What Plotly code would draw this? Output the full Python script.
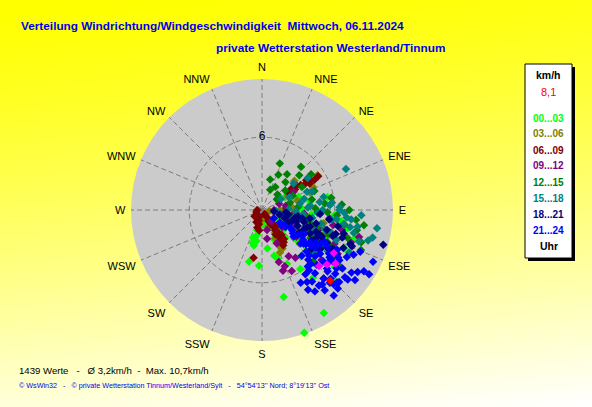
import base64
import struct
import zlib

import plotly.graph_objects as go

W, H = 592, 407

# compass labels of the rose
directions = ["N", "NNE", "NE", "ENE", "E", "ESE", "SE", "SSE",
              "S", "SSW", "SW", "WSW", "W", "WNW", "NW", "NNW"]

# time slots (Uhr) and their colours
slots = ["00...03", "03...06", "06...09", "09...12",
         "12...15", "15...18", "18...21", "21...24"]
slot_colors = ["#00ff00", "#808000", "#800000", "#800080",
               "#008000", "#008080", "#000080", "#0000ff"]

# wind direction (deg) / wind speed (km/h) per time slot
dir_00 = [191, 193, 194, 183, 165, 166, 147, 161, 149, 198, 194, 190, 196, 172, 158,
          152, 162, 155, 140, 136, 130, 125, 118, 112, 105, 100, 95, 80, 79, 88,
          110, 122, 128, 143, 134, 115, 108, 120, 150, 175, 140, 132, 98, 70, 60, 131,
          90, 94, 102, 107, 114]
spd_00 = [2.1, 3.0, 4.4, 4.6, 3.9, 7.4, 5.8, 10.7, 9.9, 2.4, 1.7, 2.6, 2.8, 3.2, 2.6,
          3.4, 4.2, 4.9, 5.0, 6.1, 4.6, 3.8, 5.3, 4.4, 3.6, 2.9, 4.1, 4.0, 5.5, 3.3,
          6.2, 6.8, 7.6, 7.0, 8.3, 7.5, 2.2, 1.6, 1.8, 1.2, 3.0, 2.4, 6.6, 3.2, 2.2, 3.8,
          5.0, 6.0, 7.2, 8.0, 5.6]

dir_03 = [98, 98, 97, 98, 99, 98, 97, 98, 99, 100, 58, 65, 152, 155, 156, 154, 150, 157,
          110, 115, 105, 120, 90, 85, 75, 125, 160, 145, 135, 70, 102, 112, 48, 62, 180, 200]
spd_03 = [0.6, 1.0, 1.4, 1.8, 2.2, 2.6, 3.0, 3.4, 3.8, 4.1, 5.4, 4.6, 3.6, 2.6, 3.0, 3.3, 2.2, 3.8,
          2.0, 3.2, 4.6, 2.8, 1.5, 2.5, 3.0, 1.2, 1.5, 1.0, 2.0, 4.2, 5.2, 5.5, 3.6, 2.4, 0.8, 1.0]

dir_06 = [146, 145, 147, 144, 148, 145, 143, 147, 146, 144, 148, 145, 147, 143, 146, 149,
          150, 141, 151, 142, 150,
          57, 56, 58, 55, 57, 59, 56, 58, 60, 59, 54, 61,
          190, 197, 192, 195, 188, 200, 205, 250, 270, 230, 110, 100, 125, 85]
spd_06 = [0.4, 0.7, 1.0, 1.2, 1.4, 1.6, 1.8, 2.0, 2.2, 2.4, 2.5, 2.7, 2.9, 3.0, 3.2, 3.4,
          1.1, 1.5, 2.3, 2.6, 3.0,
          2.6, 2.9, 3.2, 3.5, 3.8, 4.1, 4.4, 4.7, 5.0, 5.4, 3.0, 4.5,
          4.0, 0.9, 1.2, 1.5, 1.7, 0.6, 1.1, 0.5, 0.4, 0.8, 2.5, 1.8, 3.5, 2.0]

dir_09 = [162, 161, 154, 158, 105.5, 166, 156, 150, 145, 130, 125, 118, 112, 108, 100,
          95, 120, 138, 115, 80, 70, 130, 140, 170, 60, 102, 128, 90,
          92, 97, 104, 110, 116]
spd_09 = [4.5, 5.3, 5.6, 5.0, 8.3, 1.7, 3.0, 4.4, 4.8, 6.4, 5.6, 4.0, 3.0, 5.0, 2.5,
          3.5, 7.2, 7.6, 6.6, 2.0, 1.5, 2.2, 1.2, 2.4, 3.0, 6.0, 3.6, 1.0,
          4.6, 5.6, 6.8, 7.8, 4.6]

dir_12 = [21, 47, 54, 22, 98.5, 50, 30, 40, 35, 45, 60, 65, 25, 15, 55, 75, 85, 95,
          105, 110, 118, 100, 92, 125, 115, 130, 120, 108, 112, 88, 70, 42, 80, 135, 102,
          104, 107, 113, 116, 98, 94, 121, 126, 86, 90, 96, 102, 108, 84, 78]
spd_12 = [4.1, 4.2, 5.0, 1.8, 8.5, 2.5, 2.2, 3.0, 3.6, 1.8, 3.8, 2.8, 3.2, 2.6, 1.5, 2.4, 3.0, 2.0,
          4.0, 5.8, 6.4, 6.9, 5.4, 7.0, 3.2, 5.2, 4.6, 7.4, 8.8, 4.4, 4.6, 4.8, 5.8, 6.0, 3.0,
          2.6, 4.8, 5.0, 6.0, 3.6, 6.2, 5.8, 8.0, 6.6, 7.2, 7.8, 8.0, 8.6, 5.2, 4.2]

dir_15 = [64, 106, 104, 100, 95, 90, 85, 80, 75, 70, 65, 60, 100, 105, 110, 115, 108, 112,
          118, 98, 93, 88, 102, 95, 110, 120, 125, 130, 122, 116, 108, 90, 78, 50, 55, 68,
          96, 99, 103, 107, 111, 114, 92, 97, 101, 86,
          84, 88, 92, 96, 100, 104, 82, 87, 93, 99]
spd_15 = [7.7, 9.1, 9.4, 8.0, 7.0, 5.0, 4.0, 3.2, 3.6, 4.4, 2.5, 1.8, 2.8, 3.6, 4.4, 5.2, 6.0, 6.6,
          7.0, 5.8, 4.6, 2.2, 1.6, 1.2, 2.0, 3.0, 4.0, 5.6, 6.4, 8.0, 8.4, 6.4, 5.2, 3.4, 4.6, 4.0,
          3.4, 4.2, 5.0, 5.4, 3.8, 4.8, 2.8, 6.2, 7.4, 5.6,
          5.8, 6.4, 6.8, 7.4, 6.8, 7.8, 4.8, 3.8, 8.2, 9.6]

dir_18 = [106, 110, 112, 114, 115, 116, 118, 117, 120, 119, 105, 108, 111, 113, 122, 124,
          100, 102, 104, 107, 126, 115, 110, 121, 96, 100, 118, 128, 109, 112,
          103, 106, 109, 112, 114, 117, 119, 121, 108, 111, 94, 98, 102, 106, 100, 96]
spd_18 = [10.4, 2.0, 2.6, 3.2, 3.8, 4.4, 5.0, 5.6, 6.2, 6.8, 1.5, 3.0, 4.0, 5.2, 4.8, 5.8,
          2.2, 3.4, 4.6, 5.6, 7.0, 7.4, 6.2, 3.6, 1.0, 4.0, 2.4, 5.2, 7.0, 8.0,
          2.8, 3.6, 4.2, 4.8, 5.4, 6.0, 6.6, 7.2, 6.4, 7.8, 4.8, 5.6, 6.4, 7.0, 3.0, 2.0]

dir_21 = [147, 129, 121, 115, 123,
          125, 125, 126, 124, 125, 126, 124, 125, 127, 123, 128, 122, 130, 120, 128, 121, 131, 119,
          135, 140, 132, 138, 128, 142, 134, 126, 130, 145, 150, 137, 133, 141, 118, 116, 122,
          146, 152, 136, 127, 113, 131, 140, 139, 117, 142, 133, 136, 141,
          124, 127, 122, 129, 126, 120, 131, 125, 128, 123, 133, 135, 137, 129, 126, 143, 148,
          138, 134, 125, 119, 121]
spd_21 = [8.0, 9.1, 10.3, 10.1, 9.4,
          1.2, 1.8, 2.4, 3.0, 3.6, 4.2, 4.8, 5.4, 6.0, 6.6, 2.0, 2.8, 3.4, 4.0, 4.6, 5.2, 5.8, 6.2,
          6.4, 6.8, 7.2, 7.6, 7.8, 8.4, 8.6, 8.2, 6.6, 7.2, 7.6, 5.6, 5.0, 6.0, 7.0, 8.4, 7.4,
          6.4, 6.8, 9.0, 9.6, 8.8, 8.0, 9.2, 5.0, 5.8, 6.3, 8.7, 8.5, 7.9,
          2.2, 3.2, 3.8, 4.4, 5.0, 5.6, 4.2, 6.8, 7.0, 7.6, 7.4, 8.0, 8.2, 8.8, 7.2, 7.8, 7.0,
          6.0, 5.4, 9.0, 8.0, 9.8]

dir_slots = [dir_00, dir_03, dir_06, dir_09, dir_12, dir_15, dir_18, dir_21]
spd_slots = [spd_00, spd_03, spd_06, spd_09, spd_12, spd_15, spd_18, spd_21]

# last hour (magenta) and the current value (red)
dir_last = [134.5, 126, 121, 130]
spd_last = [6.6, 7.5, 6.9, 7.0]
dir_now = [136]
spd_now = [8.1]

current_speed = "8,1"
r_max = 10.8
ring_tick = 6

title_1 = "Verteilung Windrichtung/Windgeschwindigkeit  Mittwoch, 06.11.2024"
title_2 = "private Wetterstation Westerland/Tinnum"
stats_text = "1439 Werte   -   Ø 3,2km/h  -  Max. 10,7km/h"
footer_text = ("© WsWin32   -   © private Wetterstation Tinnum/Westerland/Sylt   -   "
               "54°54'13'' Nord; 8°19'13'' Ost")


def px(x):
    return x / W


def py(y):
    return 1 - y / H


def gradient_png(w, h):
    # yellow at the top fading to almost white at the bottom right
    rows = []
    for j in range(h):
        row = bytearray([0])
        for i in range(w):
            t = 0.88 * j / (h - 1) + 0.12 * i / (w - 1)
            b = int(255 * min(1, max(0, t)) ** 1.25)
            row += bytes([255, 255, b])
        rows.append(bytes(row))
    raw = b"".join(rows)

    def chunk(tag, data):
        c = tag + data
        return struct.pack(">I", len(data)) + c + struct.pack(">I", zlib.crc32(c) & 0xffffffff)

    png = (b"\x89PNG\r\n\x1a\n"
           + chunk(b"IHDR", struct.pack(">IIBBBBB", w, h, 8, 2, 0, 0, 0))
           + chunk(b"IDAT", zlib.compress(raw, 9))
           + chunk(b"IEND", b""))
    return "data:image/png;base64," + base64.b64encode(png).decode()


fig = go.Figure()

for name, col, d, s in zip(slots, slot_colors, dir_slots, spd_slots):
    fig.add_trace(go.Scatterpolar(
        r=s, theta=d, mode="markers", name=name,
        marker=dict(symbol="diamond", size=6.5, color=col, line=dict(width=0)),
    ))

fig.add_trace(go.Scatterpolar(
    r=spd_last, theta=dir_last, mode="markers",
    marker=dict(symbol="diamond", size=6.5, color="#ff00ff", line=dict(width=0)),
))
fig.add_trace(go.Scatterpolar(
    r=spd_now, theta=dir_now, mode="markers",
    marker=dict(symbol="diamond", size=6.5, color="#ff0000", line=dict(width=0)),
))

# ring label "6" on the north line
fig.add_trace(go.Scatterpolar(
    r=[ring_tick], theta=[0], mode="text", text=[str(ring_tick)],
    textfont=dict(family="Liberation Sans, Arial", size=12, color="black"),
))

fig.update_layout(
    width=W, height=H,
    margin=dict(l=0, r=0, t=0, b=0),
    paper_bgcolor="#ffff80",
    showlegend=False,
    polar=dict(
        domain=dict(x=[px(131), px(393)], y=[py(341), py(79)]),
        bgcolor="#cbcbcb",
        radialaxis=dict(
            range=[0, r_max], tickvals=[ring_tick], showticklabels=False, ticks="",
            showline=False, gridcolor="#7c7c7c", griddash="5px,3px", gridwidth=1,
        ),
        angularaxis=dict(
            rotation=90, direction="clockwise",
            tickvals=[i * 22.5 for i in range(len(directions))], ticktext=directions,
            ticks="outside", ticklen=3, tickcolor="rgba(0,0,0,0)",
            tickfont=dict(family="Liberation Sans, Arial", size=11, color="black"),
            showline=False, gridcolor="#7c7c7c", griddash="5px,3px", gridwidth=1,
        ),
    ),
    images=[dict(
        source=gradient_png(74, 51), xref="paper", yref="paper",
        x=0, y=1, sizex=1, sizey=1, sizing="stretch", xanchor="left", yanchor="top",
        layer="below",
    )],
)

blue = "#0000ee"
fig.add_annotation(x=px(19), y=py(26), xref="paper", yref="paper", xanchor="left",
                   yanchor="middle", showarrow=False, text="<b>%s</b>" % title_1,
                   font=dict(family="Liberation Sans, Arial", size=11.8, color=blue))
fig.add_annotation(x=px(214), y=py(48), xref="paper", yref="paper", xanchor="left",
                   yanchor="middle", showarrow=False, text="<b>%s</b>" % title_2,
                   font=dict(family="Liberation Sans, Arial", size=11.8, color=blue))
fig.add_annotation(x=px(17), y=py(370), xref="paper", yref="paper", xanchor="left",
                   yanchor="middle", showarrow=False, text=stats_text,
                   font=dict(family="Liberation Sans, Arial", size=9.6, color="black"))
fig.add_annotation(x=px(17), y=py(385), xref="paper", yref="paper", xanchor="left",
                   yanchor="middle", showarrow=False, text=footer_text,
                   font=dict(family="Liberation Sans, Arial", size=7.2, color=blue))

# legend box with shadow
fig.add_shape(type="rect", xref="paper", yref="paper", x0=px(528), x1=px(575),
              y0=py(261), y1=py(67), fillcolor="black", line=dict(width=0))
fig.add_shape(type="rect", xref="paper", yref="paper", x0=px(525), x1=px(572),
              y0=py(258), y1=py(64), fillcolor="white", line=dict(color="black", width=1))

legend_font = "Liberation Sans, Arial"
legend_x = px(548.5)
fig.add_annotation(x=legend_x, y=py(75), xref="paper", yref="paper", showarrow=False,
                   xanchor="center", yanchor="middle", text="<b>km/h</b>",
                   font=dict(family=legend_font, size=10.5, color="black"))
fig.add_annotation(x=legend_x, y=py(92), xref="paper", yref="paper", showarrow=False,
                   xanchor="center", yanchor="middle", text=current_speed,
                   font=dict(family=legend_font, size=11, color="#ff0000"))
for k, (name, col) in enumerate(zip(slots, slot_colors)):
    fig.add_annotation(x=legend_x, y=py(118 + 16 * k), xref="paper", yref="paper",
                       showarrow=False, xanchor="center", yanchor="middle",
                       text="<b>%s</b>" % name,
                       font=dict(family=legend_font, size=10, color=col))
fig.add_annotation(x=legend_x, y=py(246), xref="paper", yref="paper", showarrow=False,
                   xanchor="center", yanchor="middle", text="<b>Uhr</b>",
                   font=dict(family=legend_font, size=10.5, color="black"))

# the page body has a default margin; drop it so the figure sits at the window corner
fig.write_html("out.html", config={"displayModeBar": False},
               post_script="document.body.style.margin='0px';")
